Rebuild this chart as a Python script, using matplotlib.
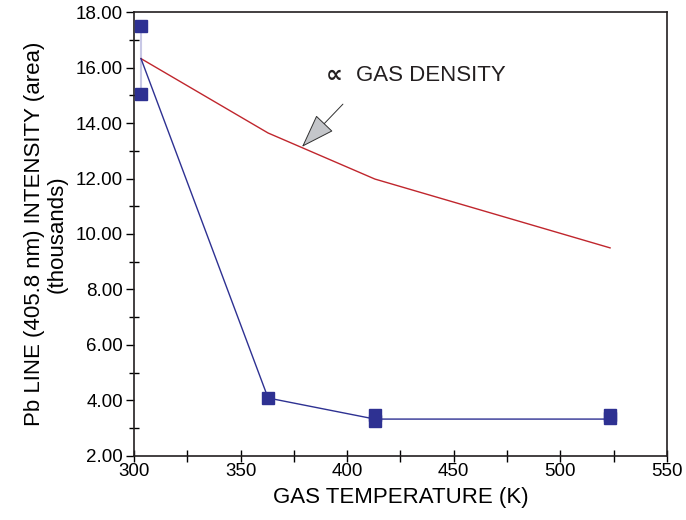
import numpy as np
import matplotlib.pyplot as plt
from matplotlib.ticker import MultipleLocator

plt.rcParams['font.family'] = ['Liberation Sans', 'DejaVu Sans']

# Pb line intensity (thousands) vs gas temperature (K)
temp_line = [303.3, 362.9, 413.0, 523.3]
intensity_line = [16.32, 4.09, 3.33, 3.33]

# measured squares (repeat measurements at same temperature)
temp_pts = [303.3, 303.3, 362.9, 413.0, 413.0, 523.3, 523.3]
intensity_pts = [17.50, 15.05, 4.09, 3.47, 3.27, 3.47, 3.37]

# proportional-to-gas-density curve
temp_density = [303.3, 362.9, 413.0, 523.3]
density_curve = [16.32, 13.64, 11.98, 9.50]

BLUE = '#2e3192'
RED = '#c0262d'

fig = plt.figure(figsize=(6.86, 5.2), dpi=100)
ax = fig.add_axes([0.1953, 0.1231, 0.777, 0.8538])

# spread of the repeated room-temperature points
ax.plot([temp_pts[0], temp_pts[1]], [intensity_pts[0], intensity_pts[1]],
        color='#c8c8e6', lw=1.5, zorder=1)
ax.plot(temp_density, density_curve, color=RED, lw=1.0, zorder=2)
ax.plot(temp_line, intensity_line, color=BLUE, lw=1.0, zorder=2)
ax.plot(temp_pts, intensity_pts, 's', color=BLUE, ms=8.5, mec=BLUE, zorder=3)

ax.annotate('', xy=(378.8, 13.14), xytext=(398.0, 14.68),
            arrowprops=dict(arrowstyle='-|>,head_length=1.1,head_width=0.38',
                            mutation_scale=20, fc='#c4c6ca', ec='#303030',
                            lw=0.7, shrinkA=0, shrinkB=0))
ax.text(390.0, 15.73, '\u221d', fontsize=17, va='center', ha='left',
        color='#231f20', fontweight='bold', family='DejaVu Sans')
ax.text(404.0, 15.73, 'GAS DENSITY', fontsize=16, va='center',
        ha='left', color='#231f20')

ax.set_xlim(300, 550)
ax.set_ylim(2, 18)
ax.xaxis.set_major_locator(MultipleLocator(50))
ax.xaxis.set_minor_locator(MultipleLocator(25))
ax.yaxis.set_major_locator(MultipleLocator(2))
ax.yaxis.set_minor_locator(MultipleLocator(1))
ax.yaxis.set_major_formatter(lambda v, p: f'{v:.2f}')

ax.tick_params(axis='x', which='both', direction='inout', length=8, width=1,
               labelsize=13.5, pad=1)
ax.tick_params(axis='y', which='major', direction='out', length=6, width=1,
               labelsize=13.5, pad=2)
ax.tick_params(axis='y', which='minor', direction='inout', length=7, width=1)
for s in ax.spines.values():
    s.set_linewidth(1.2)
    s.set_color('#231f20')

ax.set_xlabel('GAS TEMPERATURE (K)', fontsize=16, labelpad=5)
ax.set_ylabel('Pb LINE (405.8 nm) INTENSITY (area)\n(thousands)',
              fontsize=16, labelpad=6, linespacing=1.1)

fig.savefig('out.png', dpi=100)
